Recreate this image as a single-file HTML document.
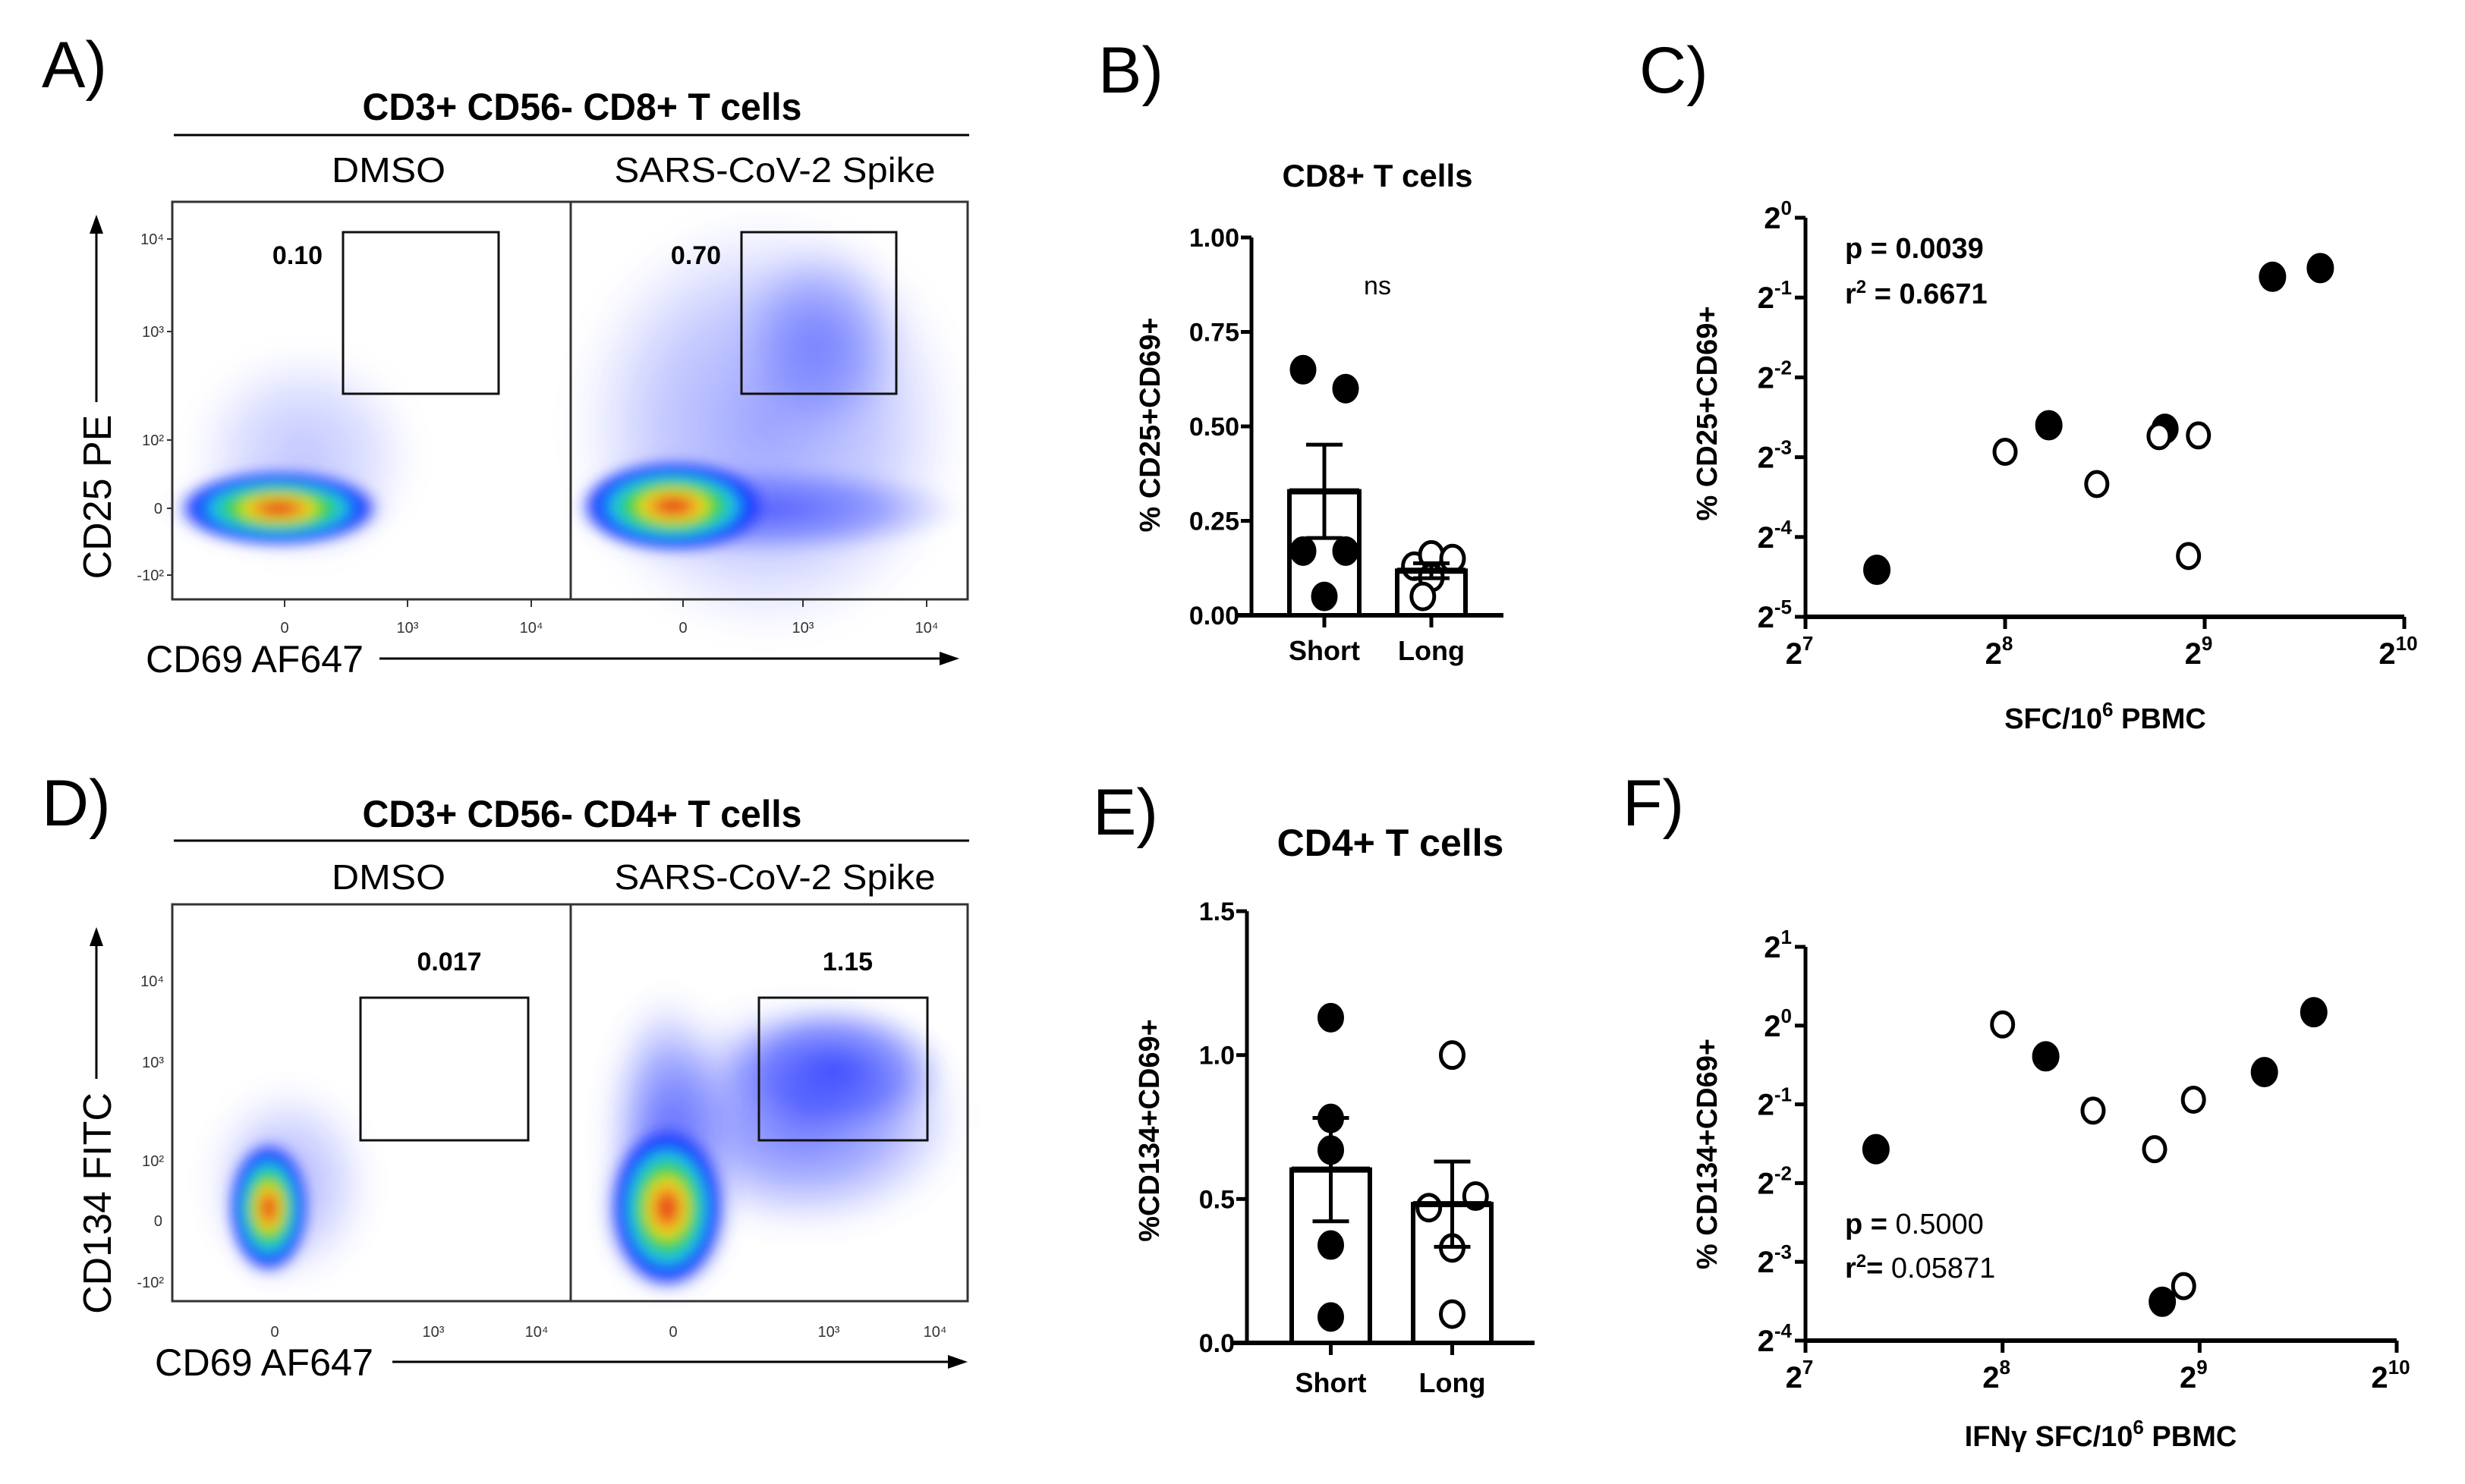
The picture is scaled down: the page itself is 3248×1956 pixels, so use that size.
<!DOCTYPE html>
<html><head><meta charset="utf-8"><style>
html,body{margin:0;padding:0;background:#fff;}
svg{display:block;}
text{font-family:"Liberation Sans",sans-serif;}
.nar{font-family:"Liberation Sans Narrow","Liberation Sans",sans-serif;font-weight:bold;}
</style></head><body>
<svg id="fig" width="3248" height="1956" viewBox="0 0 3248 1956" xmlns="http://www.w3.org/2000/svg">
<defs>
<filter id="b8" x="-50%" y="-50%" width="200%" height="200%"><feGaussianBlur stdDeviation="8"/></filter>
<filter id="b20" x="-50%" y="-50%" width="200%" height="200%"><feGaussianBlur stdDeviation="20"/></filter>
<radialGradient id="heat"><stop offset="0" stop-color="#e0201a"/><stop offset="0.2" stop-color="#f08020"/><stop offset="0.35" stop-color="#f0e020"/><stop offset="0.5" stop-color="#30d040"/><stop offset="0.68" stop-color="#20c8e8"/><stop offset="0.85" stop-color="#1040ff"/><stop offset="1" stop-color="#1020ff" stop-opacity="0.4"/></radialGradient>
<radialGradient id="halo"><stop offset="0" stop-color="#2030ff" stop-opacity="0.8"/><stop offset="0.6" stop-color="#3040ff" stop-opacity="0.45"/><stop offset="1" stop-color="#6070ff" stop-opacity="0"/></radialGradient>
</defs>

<!-- Panel A -->
<g>
<text x="55" y="115" font-size="86">A)</text>
<text x="767" y="158" font-size="50" font-weight="bold" text-anchor="middle" textLength="579" lengthAdjust="spacingAndGlyphs">CD3+ CD56- CD8+ T cells</text>
<line x1="229" y1="178" x2="1277" y2="178" stroke="#000" stroke-width="3"/>
<text x="512" y="240" font-size="46" text-anchor="middle" textLength="150" lengthAdjust="spacingAndGlyphs">DMSO</text>
<text x="1021" y="240" font-size="46" text-anchor="middle" textLength="423" lengthAdjust="spacingAndGlyphs">SARS-CoV-2 Spike</text>
<g>
<ellipse cx="400" cy="600" rx="150" ry="140" fill="url(#halo)" opacity="0.35" filter="url(#b20)"/>
<ellipse cx="367" cy="670" rx="150" ry="60" fill="url(#halo)" filter="url(#b8)"/>
<ellipse cx="367" cy="670" rx="125" ry="45" fill="url(#heat)" filter="url(#b8)"/>
</g>
<g>
<ellipse cx="1010" cy="560" rx="260" ry="280" fill="url(#halo)" opacity="0.55" filter="url(#b20)"/>
<ellipse cx="1080" cy="450" rx="110" ry="130" fill="url(#halo)" opacity="0.6" filter="url(#b20)"/>
<ellipse cx="1010" cy="672" rx="260" ry="60" fill="url(#halo)" opacity="0.8" filter="url(#b8)"/>
<ellipse cx="887" cy="667" rx="135" ry="70" fill="url(#halo)" filter="url(#b8)"/>
<ellipse cx="887" cy="667" rx="115" ry="55" fill="url(#heat)" filter="url(#b8)"/>
</g>
<rect x="227" y="266" width="1048" height="524" fill="none" stroke="#333" stroke-width="3"/>
<line x1="752" y1="266" x2="752" y2="790" stroke="#333" stroke-width="3"/>
<rect x="452" y="306" width="205" height="213" fill="none" stroke="#111" stroke-width="3"/>
<rect x="977" y="306" width="204" height="213" fill="none" stroke="#111" stroke-width="3"/>
<text x="392" y="348" font-size="34" font-weight="bold" text-anchor="middle" font-family="Liberation Serif">0.10</text>
<text x="917" y="348" font-size="34" font-weight="bold" text-anchor="middle" font-family="Liberation Serif">0.70</text>
<g font-size="20" font-family="Liberation Serif" text-anchor="end" fill="#333">
<text x="216" y="322">10⁴</text><text x="216" y="444">10³</text><text x="216" y="587">10²</text><text x="214" y="677">0</text><text x="216" y="765">-10²</text>
</g>
<g font-size="20" font-family="Liberation Serif" text-anchor="middle" fill="#333">
<text x="375" y="834">0</text><text x="537" y="834">10³</text><text x="700" y="834">10⁴</text><text x="900" y="834">0</text><text x="1058" y="834">10³</text><text x="1221" y="834">10⁴</text>
</g>
<g stroke="#333" stroke-width="2">
<line x1="220" y1="315" x2="227" y2="315"/><line x1="220" y1="437" x2="227" y2="437"/><line x1="220" y1="580" x2="227" y2="580"/><line x1="220" y1="670" x2="227" y2="670"/><line x1="220" y1="758" x2="227" y2="758"/>
<line x1="375" y1="790" x2="375" y2="800"/><line x1="537" y1="790" x2="537" y2="800"/><line x1="700" y1="790" x2="700" y2="800"/><line x1="900" y1="790" x2="900" y2="800"/><line x1="1058" y1="790" x2="1058" y2="800"/><line x1="1221" y1="790" x2="1221" y2="800"/>
</g>
<line x1="127" y1="530" x2="127" y2="300" stroke="#000" stroke-width="3"/>
<polygon points="127,283 118,308 136,308" fill="#000"/>
<text transform="translate(146,655) rotate(-90)" font-size="52" text-anchor="middle">CD25 PE</text>
<text x="192" y="886" font-size="50" textLength="287" lengthAdjust="spacingAndGlyphs">CD69 AF647</text>
<line x1="500" y1="868" x2="1245" y2="868" stroke="#000" stroke-width="3"/>
<polygon points="1264,868 1238,859 1238,877" fill="#000"/>
</g>

<!-- Panel D -->
<g>
<text x="55" y="1088" font-size="86">D)</text>
<text x="767" y="1090" font-size="50" font-weight="bold" text-anchor="middle" textLength="579" lengthAdjust="spacingAndGlyphs">CD3+ CD56- CD4+ T cells</text>
<line x1="229" y1="1108" x2="1277" y2="1108" stroke="#000" stroke-width="3"/>
<text x="512" y="1172" font-size="46" text-anchor="middle" textLength="150" lengthAdjust="spacingAndGlyphs">DMSO</text>
<text x="1021" y="1172" font-size="46" text-anchor="middle" textLength="423" lengthAdjust="spacingAndGlyphs">SARS-CoV-2 Spike</text>
<g>
<ellipse cx="380" cy="1560" rx="110" ry="130" fill="url(#halo)" opacity="0.45" filter="url(#b20)"/>
<ellipse cx="354" cy="1592" rx="62" ry="100" fill="url(#halo)" filter="url(#b8)"/>
<ellipse cx="354" cy="1592" rx="48" ry="80" fill="url(#heat)" filter="url(#b8)"/>
</g>
<g>
<ellipse cx="1060" cy="1470" rx="210" ry="150" fill="url(#halo)" opacity="0.85" filter="url(#b20)"/>
<ellipse cx="1100" cy="1410" rx="150" ry="90" fill="url(#halo)" opacity="0.9" filter="url(#b8)"/>
<ellipse cx="880" cy="1500" rx="80" ry="190" fill="url(#halo)" opacity="0.9" filter="url(#b20)"/>
<ellipse cx="879" cy="1595" rx="95" ry="120" fill="url(#halo)" filter="url(#b8)"/>
<ellipse cx="879" cy="1592" rx="70" ry="100" fill="url(#heat)" filter="url(#b8)"/>
</g>
<rect x="227" y="1192" width="1048" height="523" fill="none" stroke="#333" stroke-width="3"/>
<line x1="752" y1="1192" x2="752" y2="1715" stroke="#333" stroke-width="3"/>
<rect x="475" y="1315" width="221" height="188" fill="none" stroke="#111" stroke-width="3"/>
<rect x="1000" y="1315" width="222" height="188" fill="none" stroke="#111" stroke-width="3"/>
<text x="592" y="1279" font-size="34" font-weight="bold" text-anchor="middle" font-family="Liberation Serif">0.017</text>
<text x="1117" y="1279" font-size="34" font-weight="bold" text-anchor="middle" font-family="Liberation Serif">1.15</text>
<g font-size="20" font-family="Liberation Serif" text-anchor="end" fill="#333">
<text x="216" y="1300">10⁴</text><text x="216" y="1407">10³</text><text x="216" y="1537">10²</text><text x="214" y="1616">0</text><text x="216" y="1697">-10²</text>
</g>
<g font-size="20" font-family="Liberation Serif" text-anchor="middle" fill="#333">
<text x="362" y="1762">0</text><text x="571" y="1762">10³</text><text x="707" y="1762">10⁴</text><text x="887" y="1762">0</text><text x="1092" y="1762">10³</text><text x="1232" y="1762">10⁴</text>
</g>
<line x1="127" y1="1422" x2="127" y2="1240" stroke="#000" stroke-width="3"/>
<polygon points="127,1222 118,1247 136,1247" fill="#000"/>
<text transform="translate(146,1586) rotate(-90)" font-size="52" text-anchor="middle">CD134 FITC</text>
<text x="204" y="1813" font-size="50" textLength="288" lengthAdjust="spacingAndGlyphs">CD69 AF647</text>
<line x1="517" y1="1795" x2="1255" y2="1795" stroke="#000" stroke-width="3"/>
<polygon points="1275,1795 1249,1786 1249,1804" fill="#000"/>
</g>

<!-- Static labels for B, C, E, F -->
<text x="1447" y="122" font-size="86">B)</text>
<text x="2160" y="122" font-size="86">C)</text>
<text x="1440" y="1100" font-size="86">E)</text>
<text x="2138" y="1088" font-size="86">F)</text>
<text x="1815" y="246" font-size="42" text-anchor="middle" class="nar">CD8+ T cells</text>
<text x="1832" y="1128" font-size="50" text-anchor="middle" class="nar">CD4+ T cells</text>
<text x="1815" y="388" font-size="34" text-anchor="middle" font-family="Liberation Sans Narrow, Liberation Sans">ns</text>
<g id="plots"></g>
</svg>
<script>
// Panel B / E bar data
const barCats = ["Short", "Long"];
const bShort = [0.65, 0.60, 0.17, 0.17, 0.05];
const bLong = [0.13, 0.16, 0.15, 0.10, 0.05];
const bTicks = [0, 0.25, 0.5, 0.75, 1.0];
const bTickLabels = ["0.00", "0.25", "0.50", "0.75", "1.00"];
const eShort = [1.13, 0.78, 0.67, 0.34, 0.09];
const eLong = [1.00, 0.51, 0.47, 0.33, 0.10];
const eTicks = [0, 0.5, 1.0, 1.5];
const eTickLabels = ["0.0", "0.5", "1.0", "1.5"];
// Panel C / F scatter data (SFC/10^6 PBMC, % cells)
const cFilledX = [164, 298, 446, 648, 765];
const cFilledY = [0.047, 0.165, 0.160, 0.599, 0.646];
const cOpenX = [256, 352, 437, 501, 484];
const cOpenY = [0.131, 0.099, 0.150, 0.151, 0.053];
const fFilledX = [164, 298, 643, 765, 449];
const fFilledY = [0.337, 0.763, 0.664, 1.125, 0.088];
const fOpenX = [256, 352, 437, 501, 484];
const fOpenY = [1.01, 0.473, 0.337, 0.521, 0.101];
const xExp = [7, 8, 9, 10];
const cYExp = [0, -1, -2, -3, -4, -5];
const fYExp = [1, 0, -1, -2, -3, -4];

const NS = "http://www.w3.org/2000/svg";
const root = document.getElementById("plots");
function mk(tag, attrs, parent) {
  const e = document.createElementNS(NS, tag);
  for (const k in attrs) e.setAttribute(k, attrs[k]);
  (parent || root).appendChild(e);
  return e;
}
function mean(a) { return a.reduce((s, v) => s + v, 0) / a.length; }
function sem(a) { const m = mean(a); const v = a.reduce((s, x) => s + (x - m) * (x - m), 0) / (a.length - 1); return Math.sqrt(v / a.length); }

function barPanel(o) {
  const g = mk("g", {});
  
  
  const y = v => o.y0 + (o.y1 - o.y0) * (v - o.vmin) / (o.vmax - o.vmin);
  const ax = mk("line", { x1: o.ax, y1: y(o.vmax), x2: o.ax, y2: y(0), stroke: "#000", "stroke-width": 5 }, g);
  
  
  const xa = mk("line", { x1: o.xa0, y1: y(0), x2: o.xa1, y2: y(0), stroke: "#000", "stroke-width": 6 }, g);
  
  
  o.ticks.forEach((t, i) => {
    const tk = mk("line", { x1: o.ax - 14, y1: y(t), x2: o.ax, y2: y(t), stroke: "#000", "stroke-width": 5 }, g);
    
    
    const tl = mk("text", { x: o.ax - 16, y: y(t) + 12, "font-size": 34, "text-anchor": "end", class: "nar" }, g);
    tl.textContent = o.tickLabels[i];
    
    
  });
  const groups = [o.short, o.long];
  groups.forEach((vals, gi) => {
    const bx = o.bars[gi];
    const cx = bx[0] + (bx[1] - bx[0]) / 2;
    const m = mean(vals), s = sem(vals);
    const bar = mk("rect", { x: bx[0], y: y(m), width: bx[1] - bx[0], height: y(0) - y(m), fill: "#fff", stroke: "#000", "stroke-width": 6 }, g);
    
    
    const tkx = mk("line", { x1: cx, y1: y(0), x2: cx, y2: y(0) + 16, stroke: "#000", "stroke-width": 5 }, g);
    
    
    const cl = mk("text", { x: cx, y: o.labY, "font-size": 36, "text-anchor": "middle", class: "nar" }, g);
    cl.textContent = barCats[gi];
    
    
    vals.forEach((v, i) => {
      const off = o.jit[gi][i] * 28;
      const p = mk("ellipse", { cx: cx + off, cy: y(v), rx: 15, ry: 17, fill: gi === 0 ? "#000" : "#fff", stroke: "#000", "stroke-width": 5 }, g);
      
      
    });
    const eb = mk("path", { d: `M${cx},${y(m - s)}V${y(m + s)}M${cx - 24},${y(m + s)}H${cx + 24}M${cx - 24},${y(m - s)}H${cx + 24}`, stroke: "#000", "stroke-width": 5, fill: "none" }, g);
    
    
    const ml = mk("line", { x1: bx[0], y1: y(m), x2: bx[1], y2: y(m), stroke: "#000", "stroke-width": 8 }, g);
    
    
  });
  const yt = mk("text", { transform: `translate(${o.ytX},${o.ytY}) rotate(-90)`, "font-size": 38, "font-weight": "bold", "text-anchor": "middle" }, g);
  yt.textContent = o.ytitle;
  
  
}

barPanel({ name: "panel-b-bar-chart", y0: 811, y1: 313, vmin: 0, vmax: 1.0, ax: 1649, xa0: 1631, xa1: 1981,
  bars: [[1699, 1791], [1841, 1931]], ticks: bTicks, tickLabels: bTickLabels, short: bShort, long: bLong,
  jit: [[-1, 1, -1, 1, 0], [-0.8, 0, 1, 0, -0.4]], labY: 870, ytitle: "% CD25+CD69+", ytX: 1528, ytY: 560 });
barPanel({ name: "panel-e-bar-chart", y0: 1770, y1: 1201, vmin: 0, vmax: 1.5, ax: 1643, xa0: 1625, xa1: 2022,
  bars: [[1702, 1805], [1862, 1965]], ticks: eTicks, tickLabels: eTickLabels, short: eShort, long: eLong,
  jit: [[0, 0, 0, 0, 0], [0, 1.1, -1.1, 0, 0]], labY: 1835, ytitle: "%CD134+CD69+", ytX: 1527, ytY: 1490 });

function scatterPanel(o) {
  const g = mk("g", {});
  
  
  const sx = v => o.x0 + (o.x1 - o.x0) * (Math.log2(v) - 7) / 3;
  const yTop = o.yExp[0], yBot = o.yExp[o.yExp.length - 1];
  const sy = v => o.yb + (o.yt - o.yb) * (Math.log2(v) - yBot) / (yTop - yBot);
  const sye = e => o.yb + (o.yt - o.yb) * (e - yBot) / (yTop - yBot);
  const ya = mk("line", { x1: o.x0, y1: o.yt, x2: o.x0, y2: o.yb, stroke: "#000", "stroke-width": 5 }, g);
  
  
  const xa = mk("line", { x1: o.x0, y1: o.yb, x2: o.x1, y2: o.yb, stroke: "#000", "stroke-width": 6 }, g);
  
  
  o.yExp.forEach(e => {
    const yy = sye(e);
    const t = mk("line", { x1: o.x0 - 14, y1: yy, x2: o.x0, y2: yy, stroke: "#000", "stroke-width": 5 }, g);
    
    
    const l = mk("text", { x: o.x0 - 18, y: yy + 14, "font-size": 40, "text-anchor": "end", class: "nar" }, g);
    l.innerHTML = '2<tspan dy="-18" font-size="26">' + e + '</tspan>';
    
    
  });
  xExp.forEach(e => {
    const xx = o.x0 + (o.x1 - o.x0) * (e - 7) / 3;
    const t = mk("line", { x1: xx, y1: o.yb, x2: xx, y2: o.yb + 16, stroke: "#000", "stroke-width": 5 }, g);
    
    
    const l = mk("text", { x: xx - 8, y: o.yb + 62, "font-size": 40, "text-anchor": "middle", class: "nar" }, g);
    l.innerHTML = '2<tspan dy="-18" font-size="26">' + e + '</tspan>';
    
    
  });
  o.filledX.forEach((v, i) => {
    const p = mk("ellipse", { cx: sx(v), cy: sy(o.filledY[i]), rx: 16, ry: 18, fill: "#000", stroke: "#000", "stroke-width": 4 }, g);
    
    
  });
  o.openX.forEach((v, i) => {
    const p = mk("ellipse", { cx: sx(v), cy: sy(o.openY[i]), rx: 14, ry: 16, fill: "#fff", stroke: "#000", "stroke-width": 5 }, g);
    
    
  });
  const p1 = mk("text", { x: 2431, y: o.pY, "font-size": 38, class: o.statBold ? "nar" : "" }, g);
  p1.innerHTML = o.pText;
  
  
  const r2 = mk("text", { x: 2431, y: o.rY, "font-size": 38, class: o.statBold ? "nar" : "" }, g);
  r2.innerHTML = o.rText;
  
  
  const xt = mk("text", { x: o.xtX, y: o.xtY, "font-size": 38, "text-anchor": "middle", class: "nar" }, g);
  xt.innerHTML = o.xtitle;
  
  
  const yt = mk("text", { transform: `translate(2262,${o.ytY}) rotate(-90)`, "font-size": 38, "font-weight": "bold", "text-anchor": "middle" }, g);
  yt.textContent = o.ytitle;
  
  
}

scatterPanel({ name: "panel-c-scatter", x0: 2379, x1: 3168, yt: 287, yb: 813, yExp: cYExp,
  filledX: cFilledX, filledY: cFilledY, openX: cOpenX, openY: cOpenY, statBold: true,
  pText: 'p = 0.0039', rText: 'r<tspan dy="-14" font-size="24">2</tspan><tspan dy="14"> = 0.6671</tspan>', pY: 340, rY: 400,
  xtitle: 'SFC/10<tspan dy="-16" font-size="26">6</tspan><tspan dy="16"> PBMC</tspan>', xtX: 2774, xtY: 960,
  ytitle: "% CD25+CD69+", ytY: 545 });
scatterPanel({ name: "panel-f-scatter", x0: 2379, x1: 3158, yt: 1248, yb: 1767, yExp: fYExp,
  filledX: fFilledX, filledY: fFilledY, openX: fOpenX, openY: fOpenY, statBold: false,
  pText: '<tspan font-weight="bold">p = </tspan> 0.5000', rText: '<tspan font-weight="bold">r<tspan dy="-14" font-size="24">2</tspan><tspan dy="14">= </tspan></tspan> 0.05871', pY: 1626, rY: 1684,
  xtitle: 'IFNγ SFC/10<tspan dy="-16" font-size="26">6</tspan><tspan dy="16"> PBMC</tspan>', xtX: 2768, xtY: 1906,
  ytitle: "% CD134+CD69+", ytY: 1521 });
</script>
</body></html>
